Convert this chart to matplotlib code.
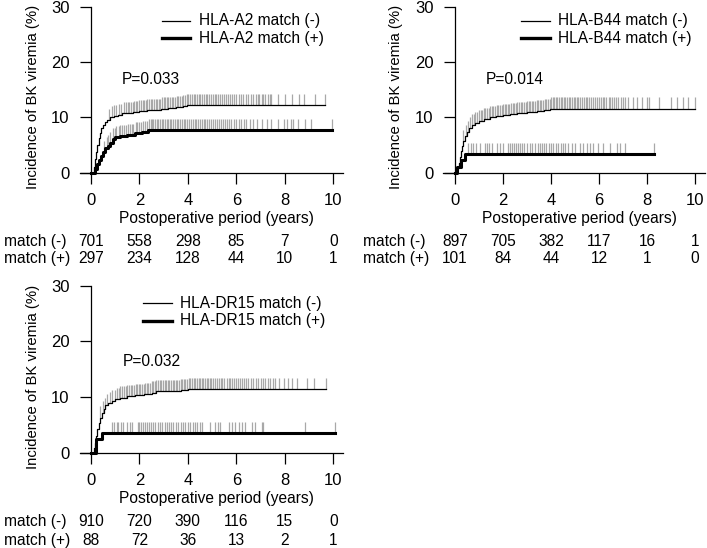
import matplotlib.pyplot as plt
import matplotlib.transforms as mtransforms
import numpy as np
from matplotlib.lines import Line2D

plt.rcParams["font.family"] = ["Liberation Sans", "DejaVu Sans"]
plt.rcParams["font.size"] = 11

W, H = 707, 548

# ── data ─────────────────────────────────────────────────────────────────────
A2_NEG_T = [0, 0.12, 0.18, 0.22, 0.27, 0.32, 0.37, 0.43, 0.5, 0.58, 0.68, 0.8, 0.95,
            1.1, 1.3, 1.5, 1.75, 2.0, 2.3, 2.6, 2.9, 3.2, 3.5, 3.8, 3.95]
A2_NEG_V = [0, 1.0, 2.5, 3.8, 5.0, 6.2, 7.2, 8.0, 8.7, 9.2, 9.6, 10.0, 10.3,
            10.5, 10.7, 10.8, 10.9, 11.1, 11.3, 11.4, 11.6, 11.7, 11.8, 12.0, 12.2]
A2_NEG_END = 9.64
A2_NEG_CENS = [0.75, 0.85, 0.95, 1.05, 1.15, 1.25, 1.35, 1.45, 1.52, 1.58, 1.65, 1.72,
               1.78, 1.85, 1.92, 2.0, 2.06, 2.13, 2.2, 2.27, 2.33, 2.4, 2.47, 2.54, 2.6,
               2.67, 2.74, 2.8, 2.87, 2.94, 3.0, 3.07, 3.14, 3.2, 3.27, 3.34, 3.4, 3.47,
               3.54, 3.6, 3.67, 3.74, 3.8, 3.87, 3.95, 4.02, 4.1, 4.17, 4.24, 4.3, 4.38,
               4.45, 4.52, 4.6, 4.66, 4.73, 4.8, 4.88, 4.95, 5.02, 5.1, 5.18, 5.25, 5.33,
               5.4, 5.5, 5.58, 5.65, 5.75, 5.82, 5.9, 6.0, 6.1, 6.2, 6.28, 6.4, 6.5, 6.6,
               6.7, 6.8, 6.88, 6.95, 7.05, 7.12, 7.2, 7.3, 7.38, 7.45, 7.7, 8.0, 8.3,
               8.6, 8.8, 9.25, 9.64]
A2_POS_T = [0, 0.18, 0.25, 0.32, 0.4, 0.48, 0.58, 0.7, 0.8, 0.9, 1.0, 1.2, 1.5, 1.8,
            2.1, 2.37]
A2_POS_V = [0, 0.7, 1.5, 2.3, 3.0, 3.7, 4.4, 4.8, 5.4, 6.0, 6.4, 6.6, 6.8, 7.1, 7.3, 7.7]
A2_POS_END = 9.95
A2_POS_CENS = [0.55, 0.65, 0.72, 0.8, 0.9, 0.98, 1.05, 1.15, 1.22, 1.3, 1.38, 1.45,
               1.52, 1.6, 1.68, 1.75, 1.85, 1.92, 2.0, 2.08, 2.15, 2.22, 2.3, 2.4, 2.46,
               2.52, 2.58, 2.65, 2.72, 2.78, 2.85, 2.92, 2.98, 3.05, 3.12, 3.18, 3.25,
               3.32, 3.4, 3.47, 3.54, 3.6, 3.68, 3.75, 3.82, 3.9, 3.97, 4.05, 4.12, 4.2,
               4.28, 4.35, 4.42, 4.5, 4.58, 4.65, 4.72, 4.8, 4.88, 4.96, 5.05, 5.12, 5.2,
               5.3, 5.38, 5.45, 5.55, 5.62, 5.7, 5.8, 5.9, 6.0, 6.1, 6.2, 6.3, 6.4, 6.55,
               6.7, 6.85, 7.05, 7.25, 7.45, 7.7, 7.95, 8.1, 8.25, 8.35, 8.55, 8.85, 9.1,
               9.95]

B44_NEG_T = [0, 0.1, 0.15, 0.2, 0.25, 0.3, 0.35, 0.42, 0.5, 0.6, 0.7, 0.85, 1.0, 1.2,
             1.45, 1.7, 2.0, 2.3, 2.6, 3.0, 3.4, 3.7, 3.96]
B44_NEG_V = [0, 0.8, 1.8, 2.9, 4.0, 4.9, 5.7, 6.6, 7.4, 8.1, 8.6, 9.0, 9.4, 9.7,
             10.0, 10.2, 10.4, 10.6, 10.8, 11.0, 11.2, 11.4, 11.6]
B44_NEG_END = 10.0
B44_NEG_CENS = [0.35, 0.45, 0.55, 0.62, 0.7, 0.78, 0.85, 0.92, 1.0, 1.07, 1.14, 1.2,
                1.27, 1.34, 1.4, 1.47, 1.54, 1.6, 1.67, 1.74, 1.8, 1.87, 1.94, 2.0, 2.07,
                2.14, 2.2, 2.27, 2.34, 2.4, 2.47, 2.54, 2.6, 2.67, 2.74, 2.8, 2.87, 2.94,
                3.0, 3.07, 3.14, 3.2, 3.27, 3.34, 3.4, 3.47, 3.54, 3.6, 3.67, 3.74, 3.8,
                3.87, 3.94, 4.0, 4.07, 4.14, 4.2, 4.27, 4.34, 4.4, 4.47, 4.54, 4.6, 4.67,
                4.74, 4.8, 4.87, 4.94, 5.0, 5.07, 5.14, 5.2, 5.3, 5.38, 5.45, 5.52, 5.6,
                5.68, 5.75, 5.82, 5.9, 6.0, 6.08, 6.15, 6.22, 6.3, 6.4, 6.48, 6.55, 6.62,
                6.7, 6.8, 6.9, 7.0, 7.1, 7.2, 7.4, 7.6, 7.8, 8.0, 8.1, 8.5, 9.0, 9.25,
                9.5, 9.7, 10.0]
B44_POS_T = [0, 0.1, 0.25, 0.42]
B44_POS_V = [0, 1.1, 2.3, 3.3]
B44_POS_END = 8.3
B44_POS_CENS = [0.56, 0.65, 0.76, 0.88, 1.04, 1.25, 1.32, 1.43, 1.53, 1.74, 1.88, 1.99,
                2.22, 2.3, 2.38, 2.46, 2.55, 2.63, 2.72, 2.78, 2.88, 2.99, 3.12, 3.2,
                3.33, 3.47, 3.55, 3.63, 3.72, 3.8, 3.9, 4.0, 4.1, 4.2, 4.3, 4.4, 4.5,
                4.58, 4.72, 4.86, 5.0, 5.21, 5.35, 5.49, 5.63, 5.76, 5.97, 6.18, 6.46,
                6.74, 6.88, 7.08, 8.29]

DR15_NEG_T = [0, 0.12, 0.17, 0.22, 0.27, 0.32, 0.38, 0.45, 0.52, 0.6, 0.7, 0.85, 1.0,
              1.2, 1.5, 1.8, 2.2, 2.5, 2.7, 3.2, 3.7, 4.0]
DR15_NEG_V = [0, 0.8, 1.8, 3.0, 4.2, 5.3, 6.3, 7.2, 7.9, 8.5, 8.9, 9.3, 9.6, 9.9,
              10.1, 10.3, 10.5, 10.8, 11.0, 11.1, 11.2, 11.4]
DR15_NEG_END = 9.7
DR15_NEG_CENS = [0.38, 0.48, 0.58, 0.68, 0.78, 0.88, 0.98, 1.08, 1.15, 1.22, 1.3, 1.37,
                 1.44, 1.5, 1.57, 1.64, 1.7, 1.77, 1.84, 1.9, 1.97, 2.04, 2.1, 2.17,
                 2.24, 2.3, 2.37, 2.44, 2.5, 2.57, 2.64, 2.7, 2.77, 2.84, 2.9, 2.97,
                 3.04, 3.1, 3.17, 3.24, 3.3, 3.37, 3.44, 3.5, 3.57, 3.64, 3.7, 3.77,
                 3.84, 3.9, 3.97, 4.04, 4.1, 4.17, 4.24, 4.3, 4.37, 4.44, 4.5, 4.57,
                 4.64, 4.7, 4.77, 4.84, 4.9, 4.97, 5.04, 5.1, 5.2, 5.28, 5.35, 5.42, 5.5,
                 5.6, 5.68, 5.75, 5.82, 5.9, 6.0, 6.08, 6.15, 6.22, 6.3, 6.4, 6.5, 6.6,
                 6.7, 6.8, 6.9, 7.0, 7.1, 7.2, 7.3, 7.4, 7.5, 7.6, 7.74, 7.95, 8.15,
                 8.29, 8.5, 8.91, 9.19, 9.7]
DR15_POS_T = [0, 0.2, 0.45]
DR15_POS_V = [0, 2.4, 3.6]
DR15_POS_END = 10.05
DR15_POS_CENS = [0.85, 0.96, 1.06, 1.13, 1.24, 1.34, 1.47, 1.61, 1.68, 1.93, 2.0, 2.08,
                 2.15, 2.23, 2.3, 2.4, 2.48, 2.56, 2.65, 2.75, 2.85, 2.93, 3.06, 3.13,
                 3.22, 3.3, 3.4, 3.5, 3.6, 3.7, 3.8, 3.9, 4.0, 4.1, 4.2, 4.3, 4.37, 4.5,
                 4.6, 4.92, 5.12, 5.26, 5.33, 5.68, 5.81, 5.95, 6.09, 6.23, 6.36, 6.64,
                 6.78, 7.05, 7.12, 8.84, 10.05]

RISK_TIMES = [0, 2, 4, 6, 8, 10]
A2_RISK_NEG = [701, 558, 298, 85, 7, 0]
A2_RISK_POS = [297, 234, 128, 44, 10, 1]
B44_RISK_NEG = [897, 705, 382, 117, 16, 1]
B44_RISK_POS = [101, 84, 44, 12, 1, 0]
DR15_RISK_NEG = [910, 720, 390, 116, 15, 0]
DR15_RISK_POS = [88, 72, 36, 13, 2, 1]

P_VALUES = ["P=0.033", "P=0.014", "P=0.032"]
NAMES = ["HLA-A2", "HLA-B44", "HLA-DR15"]

CENS_H = 2.0
CENS_COLOR = "#a8a8a8"
FS = 11.2
TICK_FS = 12


def fx(px):
    return px / W


def fy(py):
    return 1 - py / H


# ── figure ───────────────────────────────────────────────────────────────────
fig = plt.figure(figsize=(W / 100, H / 100), dpi=100)


def step_at(times, values, t):
    i = np.searchsorted(times, t, side="right") - 1
    return values[i]


def curve(ax, times, values, end, cens, lw):
    ts = list(times) + [end]
    vs = list(values) + [values[-1]]
    cv = [step_at(times, values, t) for t in cens]
    ax.vlines(cens, cv, np.array(cv) + CENS_H, color=CENS_COLOR, lw=0.9, zorder=2)
    ax.step(ts, vs, where="post", color="black", lw=lw, zorder=3, clip_on=False)


def panel(rect, xlim, neg, pos, name, pval, pv_xy, leg, risk_neg, risk_pos, rows):
    ax = fig.add_axes(rect)
    ax.set_xlim(*xlim)
    ax.set_ylim(0, 30)
    for s in ("top", "right"):
        ax.spines[s].set_visible(False)
    ax.spines["left"].set_position(("data", 0))
    ax.spines["left"].set_linewidth(0.9)
    ax.spines["bottom"].set_linewidth(0.9)
    ax.set_xticks(RISK_TIMES)
    ax.set_yticks([0, 10, 20, 30])
    ax.tick_params(axis="y", length=8, width=0.9, pad=7.5, labelsize=TICK_FS)
    ax.tick_params(axis="x", length=8, width=0.9, pad=6.5, labelsize=TICK_FS)

    curve(ax, *neg, lw=0.9)
    curve(ax, *pos, lw=2.2)

    ax.set_ylabel("Incidence of BK viremia (%)", fontsize=10.7, va="center")
    ax.yaxis.set_label_coords(-0.179, 0.455)
    ax.set_xlabel("Postoperative period (years)", fontsize=FS, va="top")
    ax.xaxis.set_label_coords(0.52, -0.232)

    fig.text(fx(pv_xy[0]), fy(pv_xy[1]), pval, fontsize=FS, ha="left", va="center")

    # legend drawn by hand at its pixel place
    lx0, lx1, tx, ry = leg
    for y, lab, lw in ((ry[0], f"{name} match (-)", 0.9), (ry[1], f"{name} match (+)", 2.4)):
        fig.add_artist(Line2D([fx(lx0), fx(lx1)], [fy(y), fy(y)], color="black", lw=lw))
        fig.text(fx(tx), fy(y), lab, fontsize=FS, ha="left", va="center")

    # numbers at risk
    btr = mtransforms.blended_transform_factory(ax.transData, fig.transFigure)
    x_lab = rows[0]
    for base, lab, vals in ((rows[1], "match (-)", risk_neg), (rows[2], "match (+)", risk_pos)):
        fig.text(fx(x_lab), fy(base), lab, fontsize=FS, ha="left", va="baseline")
        for t, v in zip(RISK_TIMES, vals):
            ax.text(t, fy(base), str(v), transform=btr, fontsize=FS,
                    ha="center", va="baseline", clip_on=False)
    return ax


panel([fx(80), fy(172.7), fx(263), 166 / H], (-0.45, 10.4),
      (A2_NEG_T, A2_NEG_V, A2_NEG_END, A2_NEG_CENS),
      (A2_POS_T, A2_POS_V, A2_POS_END, A2_POS_CENS),
      NAMES[0], P_VALUES[0], (122, 80), (162, 190, 199, (20.7, 38.3)),
      A2_RISK_NEG, A2_RISK_POS, (4, 246, 263))

panel([fx(443), fy(172.7), fx(262), 166 / H], (-0.5, 10.42),
      (B44_NEG_T, B44_NEG_V, B44_NEG_END, B44_NEG_CENS),
      (B44_POS_T, B44_POS_V, B44_POS_END, B44_POS_CENS),
      NAMES[1], P_VALUES[1], (486, 80), (521, 550, 558, (20.7, 38.3)),
      B44_RISK_NEG, B44_RISK_POS, (363, 246, 263))

panel([fx(80), fy(452.7), fx(263), 167 / H], (-0.45, 10.4),
      (DR15_NEG_T, DR15_NEG_V, DR15_NEG_END, DR15_NEG_CENS),
      (DR15_POS_T, DR15_POS_V, DR15_POS_END, DR15_POS_CENS),
      NAMES[2], P_VALUES[2], (123, 361), (143, 172, 180, (303.3, 321)),
      DR15_RISK_NEG, DR15_RISK_POS, (4, 526, 545))

fig.savefig("out.png", dpi=100)
